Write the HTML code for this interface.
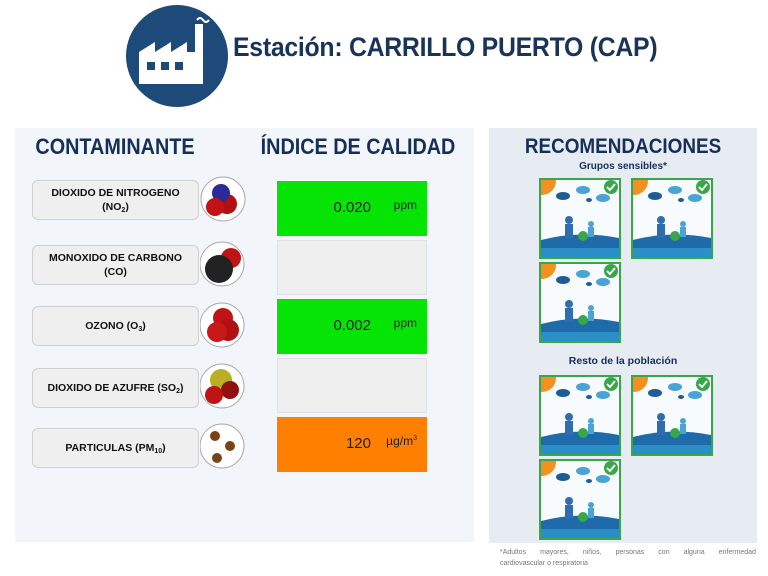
<!DOCTYPE html>
<html><head><meta charset="utf-8"><style>
body{margin:0;width:768px;height:576px;background:#fff;font-family:"Liberation Sans",sans-serif;position:relative;overflow:hidden}
.a{position:absolute}
.title{left:233px;top:32px;font-size:27px;font-weight:bold;color:#1a3358;letter-spacing:-0.3px;transform:scaleX(0.92);transform-origin:left}
.hdr{font-weight:bold;color:#14305a;font-size:21px;transform:scaleX(0.9);transform-origin:center;text-align:center;white-space:nowrap}
.lbl{left:32px;width:167px;height:40px;background:#efefef;border:1px solid #cfcfcf;border-radius:6px;box-sizing:border-box;display:flex;align-items:center;justify-content:center;text-align:center;font-size:10.5px;font-weight:bold;color:#111;line-height:14px}
.val{left:277px;width:150px;height:55px;box-sizing:border-box}
.v{position:absolute;right:56px;top:18px;font-size:15px;color:#222}
.u{position:absolute;right:10px;top:17px;font-size:12px;color:#222}
sub{font-size:7px;vertical-align:-2px;line-height:0}
</style></head><body>
<svg class="a" style="left:125px;top:4px" width="104" height="104" viewBox="0 0 104 104">
<circle cx="52" cy="52" r="51" fill="#1d4a78"/>
<path d="M14 80 V48 L30 38 V48 L46 38 V48 L62 38 V48 L70 48 V20 H78 V80 Z" fill="#fff"/>
<path d="M72 16 q3 -4 6 0 q3 4 6 0" stroke="#fff" stroke-width="2" fill="none"/>
<rect x="22" y="58" width="8" height="8" fill="#1d4a78"/><rect x="36" y="58" width="8" height="8" fill="#1d4a78"/><rect x="50" y="58" width="8" height="8" fill="#1d4a78"/>
</svg>
<div class="a title">Estación: CARRILLO PUERTO (CAP)</div>
<div class="a" style="left:15px;top:128px;width:459px;height:414px;background:#f2f5fa"></div>
<div class="a" style="left:489px;top:128px;width:268px;height:415px;background:#e7ecf3"></div>
<div class="a hdr" style="left:15px;width:200px;top:134px;font-size:22px">CONTAMINANTE</div>
<div class="a hdr" style="left:238px;width:240px;top:134px;font-size:22px">ÍNDICE DE CALIDAD</div>
<div class="a hdr" style="left:489px;width:268px;top:135px">RECOMENDACIONES</div>
<div class="a" style="left:489px;width:268px;top:161px;text-align:center;font-size:10px;font-weight:bold;color:#14305a">Grupos sensibles*</div>
<div class="a" style="left:489px;width:268px;top:355px;text-align:center;font-size:10.5px;font-weight:bold;color:#14305a">Resto de la población</div>

<div class="a lbl" style="top:180px"><span>DIOXIDO DE NITROGENO<br>(NO<sub>2</sub>)</span></div>
<div class="a lbl" style="top:245px"><span>MONOXIDO DE CARBONO<br>(CO)</span></div>
<div class="a lbl" style="top:306px"><span>OZONO (O<sub>3</sub>)</span></div>
<div class="a lbl" style="top:368px"><span>DIOXIDO DE AZUFRE (SO<sub>2</sub>)</span></div>
<div class="a lbl" style="top:428px"><span>PARTICULAS (PM<sub>10</sub>)</span></div>

<svg class="a" style="left:200px;top:176px" width="46" height="300">
<g stroke="#aaa" fill="#fff"><circle cx="23" cy="23" r="22"/><circle cx="22" cy="88" r="22"/><circle cx="22" cy="149" r="22"/><circle cx="22" cy="210" r="22"/><circle cx="22" cy="270" r="22"/></g>
<circle cx="27" cy="28" r="10" fill="#b01010"/><circle cx="21" cy="17" r="9" fill="#2a2a9a"/><circle cx="15" cy="31" r="9" fill="#c01414"/>
<circle cx="31" cy="82" r="10" fill="#c01414"/><circle cx="19" cy="93" r="14" fill="#222"/>
<circle cx="23" cy="142" r="10" fill="#c01414"/><circle cx="28" cy="154" r="11" fill="#b01010"/><circle cx="17" cy="156" r="10" fill="#c81818"/>
<circle cx="21" cy="204" r="11" fill="#b8b020"/><circle cx="30" cy="214" r="9" fill="#901010"/><circle cx="14" cy="219" r="9" fill="#c01414"/>
<circle cx="15" cy="260" r="5" fill="#7a4315"/><circle cx="30" cy="270" r="5" fill="#7a4315"/><circle cx="17" cy="282" r="5" fill="#7a4315"/>
</svg>

<div class="a val" style="top:181px;background:#06e406"><span class="v">0.020</span><span class="u">ppm</span></div>
<div class="a val" style="top:240px;background:#efefef;border:1px solid #e2e2e2"></div>
<div class="a val" style="top:299px;background:#06e406"><span class="v">0.002</span><span class="u">ppm</span></div>
<div class="a val" style="top:358px;background:#efefef;border:1px solid #e2e2e2"></div>
<div class="a val" style="top:417px;background:#ff7f00"><span class="v">120</span><span class="u">µg/m<sup style="font-size:7px">3</sup></span></div>

<svg class="a" style="left:0;top:0" width="768" height="576">
<defs><clipPath id="c"><rect x="1" y="1" width="80" height="79"/></clipPath>
<g id="t"><g clip-path="url(#c)">
<rect x="1" y="1" width="80" height="79" fill="#f7fbfd"/>
<circle cx="3" cy="3" r="14" fill="#f39020"/>
<ellipse cx="24" cy="18" rx="7" ry="4" fill="#1f5c95"/><ellipse cx="44" cy="12" rx="7" ry="4" fill="#4aa3d6"/><ellipse cx="50" cy="22" rx="3" ry="2" fill="#1f5c95"/><ellipse cx="64" cy="20" rx="7" ry="4" fill="#4aa3d6"/>
<path d="M2 62 Q40 52 80 60 V79 H2 Z" fill="#1f6aa8"/><rect x="2" y="70" width="78" height="9" fill="#2a8fc6"/>
<circle cx="30" cy="42" r="4" fill="#2f6db0"/><rect x="26" y="46" width="8" height="14" fill="#2f6db0"/><circle cx="52" cy="46" r="3" fill="#4aa3d6"/><rect x="49" y="49" width="6" height="10" fill="#4aa3d6"/>
<circle cx="44" cy="58" r="5" fill="#3aa64a"/>
</g>
<rect x="1" y="1" width="80" height="79" fill="none" stroke="#3aa64a" stroke-width="2"/>
<circle cx="72" cy="9" r="7" fill="#3aa64a"/><path d="M68 9 l3 3 l5 -6" stroke="#fff" stroke-width="1.8" fill="none"/>
</g></defs>
<use href="#t" x="539" y="178"/><use href="#t" x="631" y="178"/><use href="#t" x="539" y="262"/>
<use href="#t" x="539" y="375"/><use href="#t" x="631" y="375"/><use href="#t" x="539" y="459"/>
</svg>
<div class="a" style="left:500px;top:547px;width:256px;font-size:7px;color:#777;line-height:11px;white-space:nowrap"><div style="display:flex;justify-content:space-between"><span>*Adultos</span><span>mayores,</span><span>niños,</span><span>personas</span><span>con</span><span>alguna</span><span>enfermedad</span></div>cardiovascular o respiratoria</div>
</body></html>
